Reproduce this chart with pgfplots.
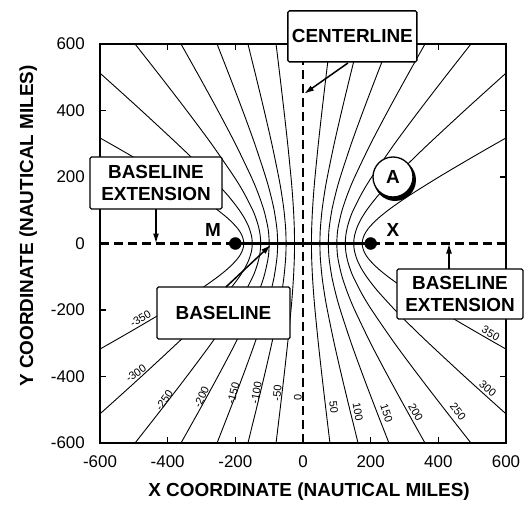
\documentclass[border=0pt]{standalone}
\usepackage{pgfplots}
\pgfplotsset{compat=1.18}
\usepackage{pgfplotstable}
\usepackage{fontspec}
\setmainfont{Liberation Sans}
\usetikzlibrary{arrows.meta}

\newcommand{\ticksize}{\fontsize{17}{20}\selectfont}
\newcommand{\boldsize}{\fontsize{19}{22}\selectfont\bfseries}
\newcommand{\labsize}{\fontsize{11}{13}\selectfont}

\tikzset{
  hyp/.style={black, line width=0.9bp, smooth, no markers},
  dashln/.style={black, line width=2.3bp, dash pattern=on 9bp off 5bp, no markers},
  box/.style={draw, fill=white, line width=1.3bp, inner sep=0pt, align=center,
    font=\boldsize, rounded corners=1.5bp},
  arr/.style={line width=1.5bp, -{Latex[length=10bp,width=6bp]}},
  lab/.style={font=\labsize, inner sep=1bp},
}

% hyperbolas: constant range difference k (nm), stations at x = -200 and x = 200
% xp = line +k, xn = line -k
\pgfplotstableread{
y xp xn
-600 79.62 -79.62
-500 67.77 -67.77
-400 56.26 -56.26
-300 45.32 -45.32
-200 35.50 -35.50
-150 31.34 -31.34
-100 28.00 -28.00
-50 25.78 -25.78
-25 25.20 -25.20
0 25.00 -25.00
25 25.20 -25.20
50 25.78 -25.78
100 28.00 -28.00
150 31.34 -31.34
200 35.50 -35.50
300 45.32 -45.32
400 56.26 -56.26
500 67.77 -67.77
600 79.62 -79.62
}\kfifty

\pgfplotstableread{
y xp xn
-600 162.79 -162.79
-500 138.44 -138.44
-400 114.75 -114.75
-300 92.20 -92.20
-200 71.88 -71.88
-150 63.25 -63.25
-100 56.27 -56.27
-50 51.64 -51.64
-25 50.42 -50.42
0 50.00 -50.00
25 50.42 -50.42
50 51.64 -51.64
100 56.27 -56.27
150 63.25 -63.25
200 71.88 -71.88
300 92.20 -92.20
400 114.75 -114.75
500 138.44 -138.44
600 162.79 -162.79
}\khundred

\pgfplotstableread{
y xp xn
-600 254.04 -254.04
-500 215.72 -215.72
-400 178.34 -178.34
-300 142.66 -142.66
-200 110.32 -110.32
-150 96.47 -96.47
-100 85.21 -85.21
-50 77.68 -77.68
-25 75.68 -75.68
0 75.00 -75.00
25 75.68 -75.68
50 77.68 -77.68
100 85.21 -85.21
150 96.47 -96.47
200 110.32 -110.32
300 142.66 -142.66
400 178.34 -178.34
500 215.72 -215.72
600 254.04 -254.04
}\konefifty

\pgfplotstableread{
y xp xn
-600 360.56 -360.56
-500 305.51 -305.51
-400 251.66 -251.66
-300 200.00 -200.00
-200 152.75 -152.75
-150 132.29 -132.29
-100 115.47 -115.47
-50 104.08 -104.08
-25 101.04 -101.04
0 100.00 -100.00
25 101.04 -101.04
50 104.08 -104.08
100 115.47 -115.47
150 132.29 -132.29
200 152.75 -152.75
300 200.00 -200.00
400 251.66 -251.66
500 305.51 -305.51
600 360.56 -360.56
}\ktwohundred

\pgfplotstableread{
y xp xn
-600 496.38 -496.38
-500 419.38 -419.38
-400 343.79 -343.79
-300 270.77 -270.77
-200 203.14 -203.14
-150 173.34 -173.34
-100 148.44 -148.44
-75 138.68 -138.68
-50 131.25 -131.25
-25 126.59 -126.59
0 125.00 -125.00
25 126.59 -126.59
50 131.25 -131.25
75 138.68 -138.68
100 148.44 -148.44
150 173.34 -173.34
200 203.14 -203.14
300 270.77 -270.77
400 343.79 -343.79
500 419.38 -419.38
600 496.38 -496.38
}\ktwofifty

\pgfplotstableread{
y xp xn
-600 696.68 -696.68
-500 586.46 -586.46
-400 477.72 -477.72
-300 371.77 -371.77
-250 320.71 -320.71
-200 271.90 -271.90
-150 226.78 -226.78
-125 206.37 -206.37
-100 188.04 -188.04
-75 172.43 -172.43
-50 160.36 -160.36
-25 152.65 -152.65
-10 150.43 -150.43
0 150.00 -150.00
10 150.43 -150.43
25 152.65 -152.65
50 160.36 -160.36
75 172.43 -172.43
100 188.04 -188.04
125 206.37 -206.37
150 226.78 -226.78
200 271.90 -271.90
250 320.71 -320.71
300 371.77 -371.77
400 477.72 -477.72
500 586.46 -586.46
600 696.68 -696.68
}\kthreehundred

\pgfplotstableread{
y xp xn
-400 743.84 -743.84
-300 569.76 -569.76
-250 484.55 -484.55
-200 401.61 -401.61
-150 322.68 -322.68
-125 285.77 -285.77
-100 251.58 -251.58
-75 221.36 -221.36
-50 196.96 -196.96
-35 186.08 -186.08
-25 180.74 -180.74
-10 175.93 -175.93
0 175.00 -175.00
10 175.93 -175.93
25 180.74 -180.74
35 186.08 -186.08
50 196.96 -196.96
75 221.36 -221.36
100 251.58 -251.58
125 285.77 -285.77
150 322.68 -322.68
200 401.61 -401.61
250 484.55 -484.55
300 569.76 -569.76
400 743.84 -743.84
}\kthreefifty

\begin{document}
\begin{tikzpicture}
\begin{axis}[
  at={(0,0)}, anchor=south west,
  width=406bp, height=399bp, scale only axis,
  xmin=-600, xmax=600, ymin=-600, ymax=600,
  xtick={-600,-400,-200,0,200,400,600},
  ytick={-600,-400,-200,0,200,400,600},
  xticklabels={-600,-400,-200,0,200,400,600},
  yticklabels={-600,-400,-200,0,200,400,600},
  tick align=inside,
  major tick length=6bp,
  every tick/.style={black, line width=1.4bp},
  axis line style={line width=2bp},
  xticklabel style={font=\ticksize, anchor=center, yshift=-19bp},
  yticklabel style={font=\ticksize, anchor=east, inner sep=0pt, xshift=-15bp},
  xlabel={X COORDINATE (NAUTICAL MILES)},
  ylabel={Y COORDINATE (NAUTICAL MILES)},
  xlabel style={font=\boldsize, at={(axis description cs:0.515,-0.123)}, anchor=center},
  ylabel style={font=\boldsize, at={(axis description cs:-0.177,0.544)}, anchor=center},
]

% hyperbolic lines of position
\addplot[hyp] table[x=xp, y=y] {\kfifty};
\addplot[hyp] table[x=xn, y=y] {\kfifty};
\addplot[hyp] table[x=xp, y=y] {\khundred};
\addplot[hyp] table[x=xn, y=y] {\khundred};
\addplot[hyp] table[x=xp, y=y] {\konefifty};
\addplot[hyp] table[x=xn, y=y] {\konefifty};
\addplot[hyp] table[x=xp, y=y] {\ktwohundred};
\addplot[hyp] table[x=xn, y=y] {\ktwohundred};
\addplot[hyp] table[x=xp, y=y] {\ktwofifty};
\addplot[hyp] table[x=xn, y=y] {\ktwofifty};
\addplot[hyp] table[x=xp, y=y] {\kthreehundred};
\addplot[hyp] table[x=xn, y=y] {\kthreehundred};
\addplot[hyp] table[x=xp, y=y] {\kthreefifty};
\addplot[hyp] table[x=xn, y=y] {\kthreefifty};

% centerline, baseline and its extensions
\addplot[dashln] coordinates {(0,-600) (0,600)};
\addplot[dashln] coordinates {(-600,0) (-200,0)};
\addplot[dashln] coordinates {(200,0) (600,0)};
\addplot[black, line width=2.3bp, no markers] coordinates {(-200,0) (200,0)};
\addplot[only marks, mark=*, mark size=6bp, black] coordinates {(-200,0) (200,0)};

% line labels
\node[lab, rotate=30] at (axis cs:-480,-226) {-350};
\node[lab, rotate=35] at (axis cs:-494,-391) {-300};
\node[lab, rotate=55] at (axis cs:-410,-471) {-250};
\node[lab, rotate=65] at (axis cs:-300,-462) {-200};
\node[lab, rotate=75] at (axis cs:-206,-450) {-150};
\node[lab, rotate=80] at (axis cs:-138,-450) {-100};
\node[lab, rotate=85] at (axis cs:-76,-450) {-50};
\node[lab, rotate=90] at (axis cs:-15,-462) {0};
\node[lab, rotate=-85] at (axis cs:91,-492) {50};
\node[lab, rotate=-80] at (axis cs:162,-507) {100};
\node[lab, rotate=-72] at (axis cs:247,-510) {150};
\node[lab, rotate=-60] at (axis cs:333,-507) {200};
\node[lab, rotate=-52] at (axis cs:458,-505) {250};
\node[lab, rotate=-40] at (axis cs:546,-436) {300};
\node[lab, rotate=-30] at (axis cs:555,-270) {350};

\node[font=\boldsize] at (axis cs:-266,41) {M};
\node[font=\boldsize] at (axis cs:266,41) {X};

\coordinate (clbox) at (axis cs:146,623);
\coordinate (cla) at (axis cs:133,543);
\coordinate (clb) at (axis cs:3,450);
\coordinate (lbox) at (axis cs:-434.5,182);
\coordinate (la) at (axis cs:-434.5,104);
\coordinate (lb) at (axis cs:-434.5,0);
\coordinate (rbox) at (axis cs:464,-152);
\coordinate (ra) at (axis cs:431.5,-77);
\coordinate (rb) at (axis cs:431.5,0);
\coordinate (bbox) at (axis cs:-235,-209);
\coordinate (ba) at (axis cs:-228,-131);
\coordinate (bb) at (axis cs:-95,-4);
\coordinate (ptA) at (axis cs:266,200);
\end{axis}

% callouts
\node[box, minimum width=129bp, minimum height=51bp] at (clbox) {CENTERLINE};
\node[box, minimum width=132bp, minimum height=52bp] at (lbox) {BASELINE\\EXTENSION};
\node[box, minimum width=126bp, minimum height=50bp] at (rbox) {BASELINE\\EXTENSION};
\node[box, minimum width=133bp, minimum height=52bp] at (bbox) {BASELINE};
\draw[arr] (cla) -- (clb);
\draw[arr] (la) -- (lb);
\draw[arr] (ra) -- (rb);
\draw[arr] (ba) -- (bb);

\fill ([shift={(2bp,-3bp)}]ptA) circle (21bp);
\draw[fill=white, line width=1.3bp] (ptA) circle (20bp);
\node[font=\boldsize] at (ptA) {A};

\pgfresetboundingbox
\path[use as bounding box] (-100bp,-65bp) rectangle (424bp,443bp);
\end{tikzpicture}
\end{document}
